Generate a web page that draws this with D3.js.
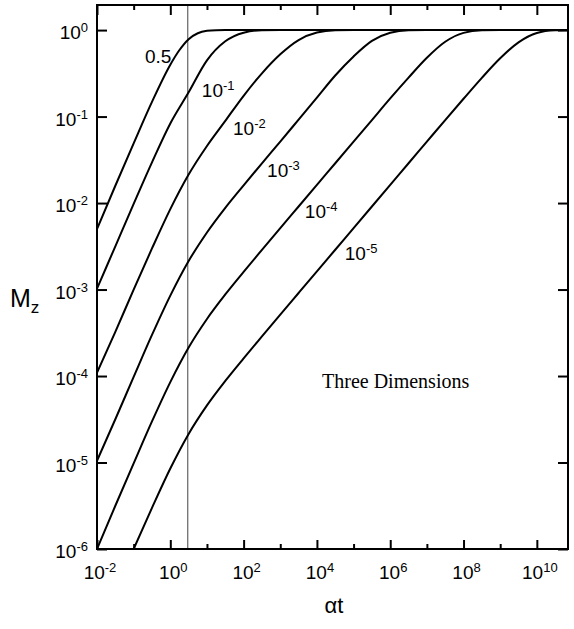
<!DOCTYPE html>
<html>
<head>
<meta charset="utf-8">
<script src="https://cdn.jsdelivr.net/npm/d3@7"></script>
<style>
  html, body { margin: 0; padding: 0; background: #fff; }
  svg { display: block; }
  text { fill: #000; }
</style>
</head>
<body>
<svg id="chart" width="574" height="629"></svg>
<script>
// Magnetization curves, stored as [log10(alpha t), log10(Mz)] pairs.
const curveNames = ["0.5", "10^-1", "10^-2", "10^-3", "10^-4", "10^-5"];

const mz05 = [[-2,-2.30],[-1.5,-1.80],[-1,-1.31],[-0.5,-0.83],[0,-0.40],[0.25,-0.23],
  [0.5,-0.105],[0.75,-0.037],[1,-0.009],[1.25,-0.0015],[1.5,0],[10.85,0]];
const mz1e1 = [[-2,-2.99],[-1.5,-2.50],[-1,-2.01],[-0.5,-1.53],[0,-1.08],[0.5,-0.72],
  [1.0,-0.35],[1.5,-0.13],[2.0,-0.03],[2.5,-0.002],[3,0],[10.85,0]];
const mz1e2 = [[-2,-3.96],[-1.5,-3.49],[-1,-3.00],[-0.5,-2.525],[0,-2.07],[0.5,-1.67],
  [1,-1.34],[1.5,-1.05],[2.0,-0.76],[2.5,-0.50],[3.0,-0.28],[3.5,-0.115],[4,-0.028],
  [4.5,-0.002],[5,0],[10.85,0]];
const mz1e3 = [[-2,-4.98],[-1.5,-4.50],[-1,-4.01],[-0.5,-3.525],[0,-3.07],[0.5,-2.67],
  [1,-2.34],[1.5,-2.055],[2,-1.795],[2.5,-1.54],[3,-1.29],[3.5,-1.035],[4,-0.78],
  [4.5,-0.525],[5,-0.305],[5.5,-0.125],[6,-0.03],[6.5,-0.002],[7,0],[10.85,0]];
const mz1e4 = [[-2,-6.0],[-1.5,-5.50],[-1,-5.01],[-0.5,-4.525],[0,-4.07],[0.5,-3.67],
  [1,-3.34],[1.5,-3.057],[2,-2.796],[2.5,-2.542],[3,-2.29],[3.5,-2.04],[4,-1.79],
  [4.5,-1.54],[5,-1.29],[5.5,-1.04],[6,-0.79],[6.5,-0.55],[7,-0.32],[7.5,-0.135],
  [8,-0.032],[8.5,-0.003],[9,0],[10.85,0]];
const mz1e5 = [[-1.0,-6.0],[-0.5,-5.525],[0,-5.07],[0.5,-4.67],[1,-4.34],[1.5,-4.057],
  [2,-3.796],[2.5,-3.542],[3,-3.29],[3.5,-3.04],[4,-2.79],[4.5,-2.54],[5,-2.29],
  [5.5,-2.04],[6,-1.79],[6.5,-1.54],[7,-1.29],[7.5,-1.04],[8,-0.794],[8.5,-0.552],
  [9,-0.326],[9.5,-0.142],[10,-0.034],[10.5,-0.003],[10.85,0]];

const seriesList = [mz05, mz1e1, mz1e2, mz1e3, mz1e4, mz1e5];

// Axis ticks (exponents of ten)
const xMajorExp = [-2, 0, 2, 4, 6, 8, 10];
const xMinorExp = [-1, 1, 3, 5, 7, 9];
const yMajorExp = [0, -1, -2, -3, -4, -5, -6];

const markerAlphaT = 3;          // vertical reference line
const panelTitle = "Three Dimensions";
const xTitle = "αt";
const yTitleMain = "M", yTitleSub = "z";

// ---- layout ----
const SANS = "'Liberation Sans', Arial, Helvetica, sans-serif";
const SERIF = "'Liberation Serif', 'Times New Roman', serif";
const L = 97, R = 568, T = 5, B = 549;
const svg = d3.select("#chart").style("font-family", SANS);

const x = d3.scaleLog().domain([1e-2, Math.pow(10, 10.85)]).range([L, R]);
const y = d3.scaleLog().domain([1e-6, Math.pow(10, 0.29)]).range([B, T]);

svg.append("defs").append("clipPath").attr("id", "plotclip")
  .append("rect").attr("x", L).attr("y", T).attr("width", R - L).attr("height", B - T);

// label with a raised exponent
function powerLabel(sel, base, exp, supSize) {
  sel.append("tspan").text(base);
  sel.append("tspan").attr("dy", -7).attr("font-size", supSize).text(exp);
}

// ---- ticks via d3 axes (inward) ----
const p10 = e => Math.pow(10, e);
function tickAxis(axisFn, scale, vals, size, transform) {
  const g = svg.append("g").attr("transform", transform)
    .call(axisFn(scale).tickValues(vals).tickSize(size).tickSizeOuter(0).tickFormat(""));
  g.select(".domain").remove();
  g.selectAll(".tick line").attr("stroke", "#000").attr("stroke-width", 2);
  return g;
}
tickAxis(d3.axisBottom, x, xMajorExp.map(p10), -9, `translate(0,${B})`);
tickAxis(d3.axisBottom, x, xMinorExp.map(p10), -5, `translate(0,${B})`);
tickAxis(d3.axisTop, x, xMajorExp.map(p10), -10, `translate(0,${T})`);
tickAxis(d3.axisTop, x, xMinorExp.map(p10), -5, `translate(0,${T})`);
tickAxis(d3.axisLeft, y, yMajorExp.map(p10), -10, `translate(${L},0)`);
tickAxis(d3.axisRight, y, yMajorExp.map(p10), -10, `translate(${R},0)`);

// ---- tick labels ----
svg.append("g").selectAll("text").data(xMajorExp).join("text")
  .attr("x", d => x(p10(d)) + 3).attr("y", B + 30)
  .attr("text-anchor", "middle").attr("font-size", 19)
  .each(function (d) { powerLabel(d3.select(this), "10", String(d), 13); });

svg.append("g").selectAll("text").data(yMajorExp).join("text")
  .attr("x", L - 9).attr("y", d => y(p10(d)) + 9)
  .attr("text-anchor", "end").attr("font-size", 19)
  .each(function (d) { powerLabel(d3.select(this), "10", String(d), 13); });

// ---- vertical reference line ----
svg.append("line")
  .attr("x1", x(markerAlphaT)).attr("x2", x(markerAlphaT))
  .attr("y1", T).attr("y2", B)
  .attr("stroke", "#444").attr("stroke-width", 1);

// ---- curves ----
const line = d3.line()
  .x(d => x(p10(d[0])))
  .y(d => y(p10(d[1])))
  .curve(d3.curveMonotoneX);

svg.append("g").attr("clip-path", "url(#plotclip)")
  .selectAll("path").data(seriesList).join("path")
  .attr("d", line)
  .attr("fill", "none").attr("stroke", "#000").attr("stroke-width", 2)
  .attr("stroke-linejoin", "round");

// ---- curve labels (placed in data coordinates) ----
const labelAt = [[-0.69,-0.38],[0.86,-0.775],[1.71,-1.21],[2.64,-1.70],[3.67,-2.17],[4.76,-2.66]];
svg.append("g").selectAll("text").data(curveNames).join("text")
  .attr("x", (d, i) => x(p10(labelAt[i][0])))
  .attr("y", (d, i) => y(p10(labelAt[i][1])))
  .attr("font-size", 19)
  .each(function (d) {
    const parts = d.split("^");
    if (parts.length === 1) d3.select(this).text(d);
    else powerLabel(d3.select(this), parts[0], parts[1], 13);
  });

// ---- frame ----
svg.append("rect").attr("x", L).attr("y", T).attr("width", R - L).attr("height", B - T)
  .attr("fill", "none").attr("stroke", "#000").attr("stroke-width", 2);

// ---- titles ----
svg.append("text").attr("x", x(p10(4.14))).attr("y", y(p10(-4.14)))
  .style("font-family", SERIF)
  .attr("font-size", 20).text(panelTitle);

svg.append("text").attr("x", 334).attr("y", 613)
  .attr("text-anchor", "middle").attr("font-size", 22).text(xTitle);

const yt = svg.append("text").attr("x", 10).attr("y", 307).attr("font-size", 25);
yt.append("tspan").text(yTitleMain);
yt.append("tspan").attr("dy", 6).attr("font-size", 17).text(yTitleSub);
</script>
</body>
</html>
